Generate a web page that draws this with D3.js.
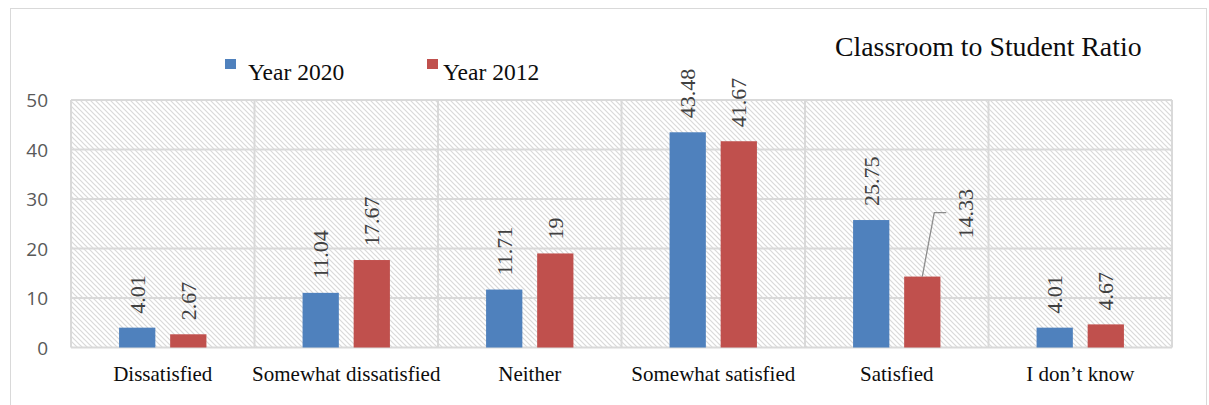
<!DOCTYPE html>
<html>
<head>
<meta charset="utf-8">
<script src="https://cdn.jsdelivr.net/npm/d3@7/dist/d3.min.js"></script>
<style>
  html, body { margin: 0; padding: 0; background: #fff; }
  svg { display: block; }
</style>
</head>
<body>
<svg id="chart" width="1209" height="405"></svg>
<script>
// Survey answers: classroom to student ratio, percentage per answer
const categories = ["Dissatisfied", "Somewhat dissatisfied", "Neither", "Somewhat satisfied", "Satisfied", "I don\u2019t know"];
const seriesNames = ["Year 2020", "Year 2012"];
const values2020 = [4.01, 11.04, 11.71, 43.48, 25.75, 4.01];
const values2012 = [2.67, 17.67, 19, 41.67, 14.33, 4.67];
const yTicks = [0, 10, 20, 30, 40, 50];
const colors = ["#4f81bd", "#c0504d"];

const seriesValues = [values2020, values2012];
const rows = categories.map((c, i) => ({
  category: c,
  items: seriesNames.map((s, j) => ({ series: s, value: seriesValues[j][i], index: i }))
}));

const svg = d3.select("#chart");
const serif = "'Liberation Serif', 'Times New Roman', serif";
const sans = "'Open Sans', 'Liberation Sans', sans-serif";

// hatched background of the plot area
const defs = svg.append("defs");
const pat = defs.append("pattern")
  .attr("id", "hatch")
  .attr("patternUnits", "userSpaceOnUse")
  .attr("width", 5).attr("height", 5);
pat.append("rect").attr("width", 5).attr("height", 5).attr("fill", "#fff");
pat.append("path")
  .attr("d", "M0,0 L5,5 M-1,4 L1,6 M4,-1 L6,1")
  .attr("stroke", "#d9d9d9").attr("stroke-width", 1.2);

// outer frame
svg.append("rect")
  .attr("x", 10.5).attr("y", 8.5).attr("width", 1196).attr("height", 410)
  .attr("fill", "#fff").attr("stroke", "#d9d9d9").attr("stroke-width", 1);

const plot = { left: 71, right: 1172, top: 100, bottom: 347.5 };

const x0 = d3.scaleBand().domain(categories).range([plot.left, plot.right]).padding(0);
const x1 = d3.scaleBand().domain(seriesNames)
  .range([x0.bandwidth() * 0.262, x0.bandwidth() * 0.738]).paddingInner(0.29);
const y = d3.scaleLinear().domain([0, 50]).range([plot.bottom, plot.top]);

svg.append("rect")
  .attr("x", plot.left).attr("y", plot.top)
  .attr("width", plot.right - plot.left).attr("height", plot.bottom - plot.top)
  .attr("fill", "url(#hatch)");

// horizontal gridlines
svg.append("g").selectAll("line").data(yTicks).join("line")
  .attr("x1", plot.left).attr("x2", plot.right)
  .attr("y1", d => y(d)).attr("y2", d => y(d))
  .attr("stroke", "#d9d9d9").attr("stroke-width", 2);

// vertical category separators
const edges = categories.map(c => x0(c)).concat([plot.right]);
svg.append("g").selectAll("line").data(edges).join("line")
  .attr("x1", d => d).attr("x2", d => d)
  .attr("y1", plot.top).attr("y2", plot.bottom)
  .attr("stroke", "#d9d9d9").attr("stroke-width", 2);

// y axis labels
const yAxis = d3.axisLeft(y).tickValues(yTicks).tickSize(0).tickPadding(0);
const gy = svg.append("g").attr("transform", "translate(48,0)").call(yAxis);
gy.select(".domain").remove();
gy.selectAll("text")
  .attr("font-family", sans).attr("font-size", 19).attr("fill", "#595959")
  .attr("dy", "0.36em");

// x axis labels
const xAxis = d3.axisBottom(x0).tickSize(0).tickPadding(0);
const gx = svg.append("g").attr("transform", "translate(0,366)").call(xAxis);
gx.select(".domain").remove();
gx.selectAll("text")
  .attr("font-family", serif).attr("font-size", 21).attr("fill", "#0d0d0d")
  .attr("dy", "0.7em");

// bars
const groups = svg.append("g").selectAll("g").data(rows).join("g")
  .attr("transform", d => `translate(${x0(d.category)},0)`);

groups.selectAll("rect").data(d => d.items).join("rect")
  .attr("x", d => x1(d.series))
  .attr("width", x1.bandwidth())
  .attr("y", d => y(d.value))
  .attr("height", d => y(0) - y(d.value))
  .attr("fill", (d, i) => colors[i]);

// value labels, rotated; the 2012 "Satisfied" label sits off to the side with a leader line
const labelFor = (d) => {
  const cx = x1(d.series) + x1.bandwidth() / 2;
  const top = y(d.value);
  if (d.series === "Year 2012" && d.index === 4) {
    return { x: cx + 43, y: top - 38, leader: true, cx, top };
  }
  return { x: cx, y: top - 14, leader: false, cx, top };
};

groups.selectAll("path.leader").data(d => d.items.filter(it => labelFor(it).leader)).join("path")
  .attr("class", "leader")
  .attr("d", d => {
    const l = labelFor(d);
    return `M${l.cx},${l.top} L${l.cx + 12},${l.top - 64} L${l.cx + 24},${l.top - 64}`;
  })
  .attr("fill", "none").attr("stroke", "#8c8c8c").attr("stroke-width", 1.3);

groups.selectAll("text.val").data(d => d.items).join("text")
  .attr("class", "val")
  .attr("transform", d => { const l = labelFor(d); return `translate(${l.x},${l.y}) rotate(-90)`; })
  .attr("dy", "0.34em")
  .attr("font-family", serif).attr("font-size", 22).attr("fill", "#404040")
  .text(d => d.value);

// legend
const legend = svg.append("g");
const legendX = [225, 427];
seriesNames.forEach((s, i) => {
  legend.append("rect").attr("x", legendX[i]).attr("y", 59)
    .attr("width", 11).attr("height", 10).attr("fill", colors[i]);
  legend.append("text").attr("x", legendX[i] + (i === 0 ? 23 : 16)).attr("y", 80)
    .attr("font-family", serif).attr("font-size", 23.5).attr("fill", "#0d0d0d")
    .text(s);
});

// title
svg.append("text").attr("x", 835).attr("y", 56)
  .attr("font-family", serif).attr("font-size", 27.8).attr("fill", "#0d0d0d")
  .text("Classroom to Student Ratio");
</script>
</body>
</html>
